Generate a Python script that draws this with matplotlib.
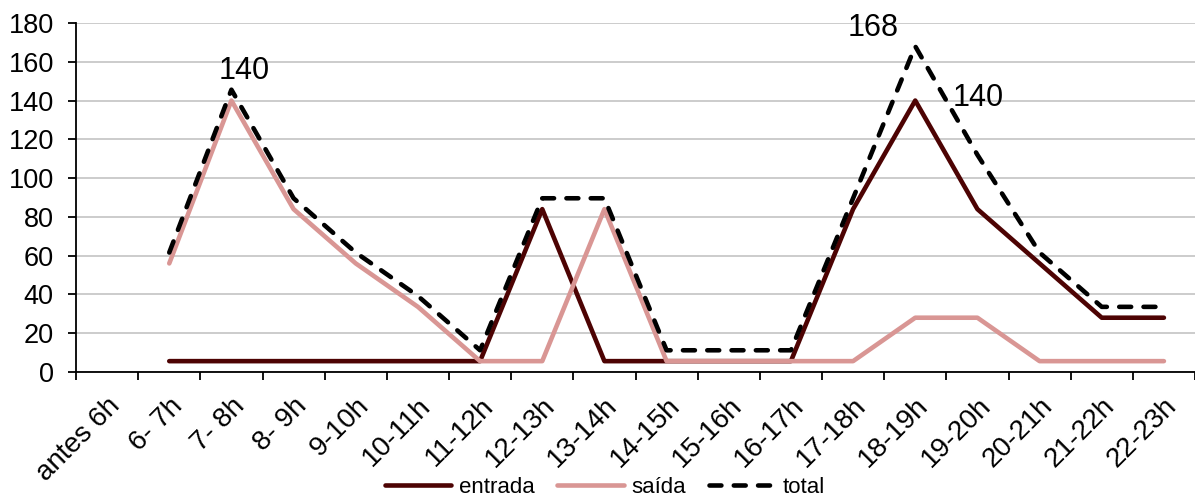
import matplotlib
matplotlib.use("Agg")
import matplotlib.pyplot as plt
import matplotlib.transforms as mtransforms
import numpy as np

plt.rcParams["font.family"] = ["Liberation Sans", "DejaVu Sans"]

# categories (hour bands) and counts per band; "antes 6h" has no data
horas = ["antes 6h", "6- 7h", "7- 8h", "8- 9h", "9-10h", "10-11h", "11-12h", "12-13h",
         "13-14h", "14-15h", "15-16h", "16-17h", "17-18h", "18-19h", "19-20h",
         "20-21h", "21-22h", "22-23h"]
entrada = [np.nan, 5.6, 5.6, 5.6, 5.6, 5.6, 5.6, 84, 5.6, 5.6, 5.6, 5.6, 84, 140, 84, 56, 28, 28]
saida = [np.nan, 56, 140, 84, 56, 33.6, 5.6, 5.6, 84, 5.6, 5.6, 5.6, 5.6, 28, 28, 5.6, 5.6, 5.6]
total = [np.nan, 61.6, 145.6, 89.6, 61.6, 39.2, 11.2, 89.6, 89.6, 11.2, 11.2, 11.2, 89.6, 168, 112, 61.6, 33.6, 33.6]

# (series, index, text, offset in pixels) for the three data labels
rotulos = [(total, 2, "140", (13, 4)), (total, 13, "168", (-42, 3)), (entrada, 13, "140", (63, -12))]

x = np.arange(len(horas))
fig = plt.figure(figsize=(11.95, 4.98), dpi=100)
ax = fig.add_axes([76 / 1195, 126 / 498, 1 - 76 / 1195, 349 / 498])

kw = dict(lw=3.3, solid_capstyle="round", solid_joinstyle="round")
ax.plot(x, entrada, color="#4d0303", label="entrada", **kw)
ax.plot(x, saida, color="#d99694", label="saída", **kw)
ax.plot(x, total, color="black", ls=(0, (2.6, 2.7)), lw=3.3, dash_capstyle="round",
        dash_joinstyle="round", label="total")

for serie, i, txt, (dx, dy) in rotulos:
    ax.annotate(txt, (x[i], serie[i]), xytext=(dx, dy), textcoords="offset pixels",
                ha="center", va="bottom", fontsize=22)

ax.set_xlim(-0.5, len(horas) - 0.5)
ax.set_ylim(0, 180)
ax.set_yticks(np.arange(0, 181, 20))
ax.yaxis.grid(True, color="#c8c8c8", lw=1.3)
ax.set_axisbelow(True)
for s in ("top", "right"):
    ax.spines[s].set_visible(False)
for s in ("left", "bottom"):
    ax.spines[s].set_linewidth(1.3)

ax.set_xticks(x)
ax.set_xticklabels(horas, rotation=45, ha="right", rotation_mode="anchor")
shift = mtransforms.ScaledTranslation(4 / 100, 0, fig.dpi_scale_trans)
for lab in ax.get_xticklabels():
    lab.set_transform(lab.get_transform() + shift)
ax.set_xticks(np.arange(-0.5, len(horas), 1), minor=True)
ax.tick_params(axis="x", which="major", length=0, pad=15, labelsize=20)
ax.tick_params(axis="x", which="minor", length=6, width=1.3, direction="out")
ax.tick_params(axis="y", length=6, width=1.3, pad=10, labelsize=19.5)

ax.legend(loc="center", bbox_to_anchor=(605 / 1195, 11 / 498), bbox_transform=fig.transFigure,
          ncol=3, frameon=False, fontsize=16, handlelength=3.0, columnspacing=1.0,
          handletextpad=0.35, borderpad=0)

fig.savefig("out.png", dpi=100)
